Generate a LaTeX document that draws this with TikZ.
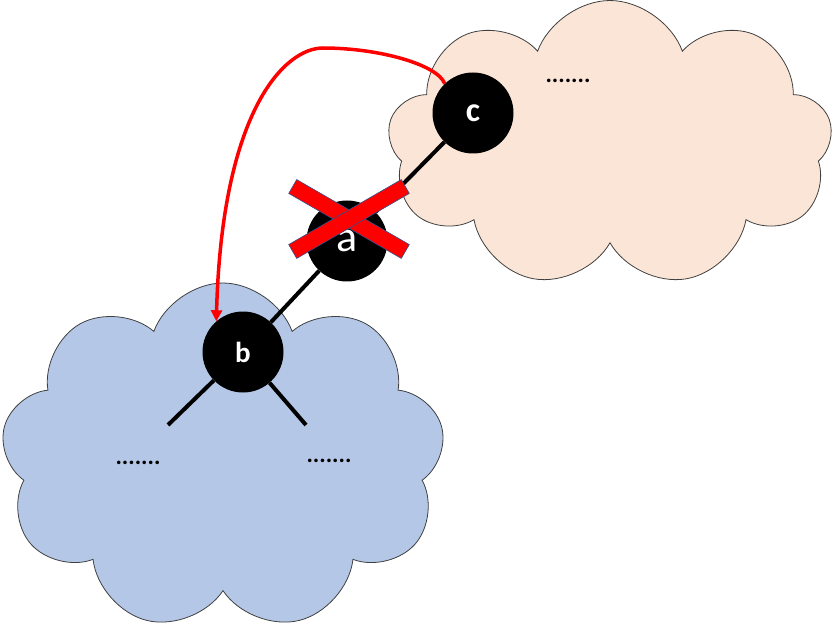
\documentclass[tikz,border=0pt]{standalone}
\usepackage{fontspec}
\setmainfont{Carlito}
\usepackage{tikz}
\usetikzlibrary{
	shapes.symbols,
	arrows.meta
}
\definecolor{skyfill}{HTML}{B4C7E7}
\definecolor{peachfill}{HTML}{FBE5D6}
\definecolor{puffline}{HTML}{404040}
\definecolor{crossline}{HTML}{2F528F}

\begin{document}
\begin{tikzpicture}[
		x=1pt,y=-1pt,
		puff/.style={cloud,cloud puffs=9,cloud puff arc=140,cloud ignores aspect,draw=puffline,line width=0.8pt,inner sep=0pt},
		vertex/.style={circle,fill=black,minimum size=81pt,inner sep=0pt,text=white},
		branch/.style={line width=4pt},
		cross/.style={rectangle,fill=red,draw=crossline,line width=0.6pt,minimum width=130pt,minimum height=16pt,inner sep=0pt},
		dots/.style={font=\fontsize{24}{24}\selectfont\bfseries}
	]
		\useasboundingbox (0,0) rectangle (833,631);
		\draw
			node[puff,fill=skyfill,minimum width=444pt,minimum height=348pt]   (lower) at (223,457) {}
			node[puff,fill=peachfill,minimum width=445pt,minimum height=287pt] (upper) at (610,144) {}
			node[vertex,font=\fontsize{34}{34}\selectfont\bfseries] (c) at (473,113) {c}
			node[vertex,font=\fontsize{44}{44}\selectfont]          (a) at (347,241) {a}
			node[vertex,font=\fontsize{29}{29}\selectfont\bfseries] (b) at (243,352) {b}
			node[dots] (restc) at (568,81)  {.......}
			node[dots] (restl) at (138,463) {.......}
			node[dots] (restr) at (329,461) {.......}
			(168,425) coordinate (bl)
			(306,425) coordinate (br)
		;
		\draw[branch]
			(c) edge (a)
			(a) edge (b)
			(b) edge (bl)
			(b) edge (br)
		;
		\node[cross,rotate=-30] (cut1) at (349,219) {};
		\node[cross,rotate=30]  (cut2) at (349,219) {};
		\draw[red,line width=3.5pt,-{Triangle[length=11pt,width=11pt]}]
			(c.134) .. controls (438,65) and (380,48) .. (323,48)
			        .. controls (285,48) and (222,110) .. (b.131)
		;
	\end{tikzpicture}
\end{document}
